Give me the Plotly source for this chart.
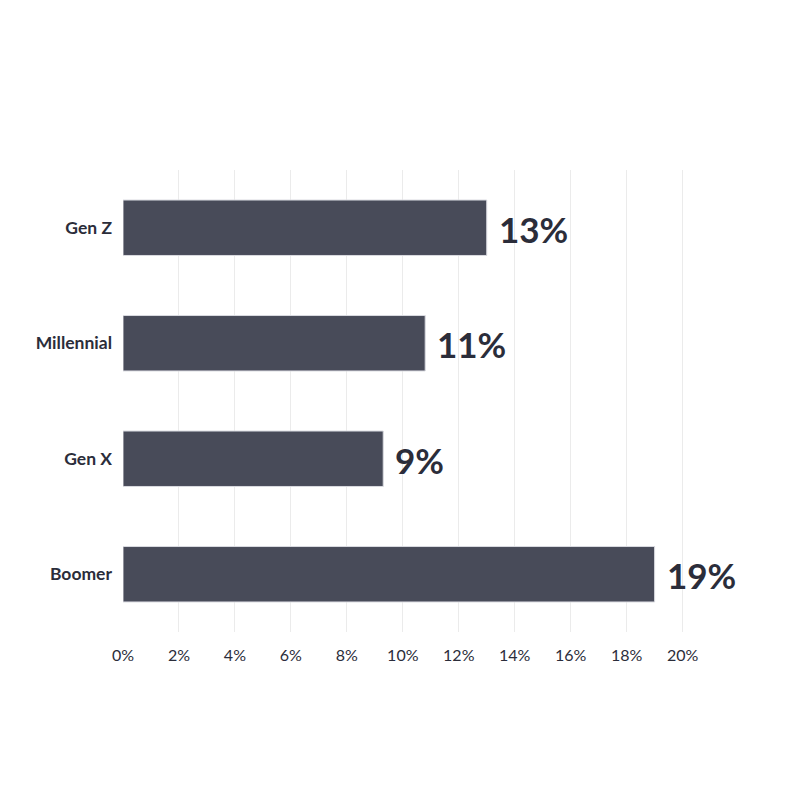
import plotly.graph_objects as go

categories = ["Gen Z", "Millennial", "Gen X", "Boomer"]
values = [13.0, 10.8, 9.3, 19.0]
labels = ["13%", "11%", "9%", "19%"]
tick_vals = [0, 2, 4, 6, 8, 10, 12, 14, 16, 18, 20]
tick_text = ["0%", "2%", "4%", "6%", "8%", "10%", "12%", "14%", "16%", "18%", "20%"]

fig = go.Figure(go.Bar(
    y=categories,
    x=values,
    orientation="h",
    marker=dict(color="#484b59", line=dict(color="#d9dae0", width=1)),
    hoverinfo="skip",
))

for cat, val, lab in zip(categories, values, labels):
    fig.add_annotation(
        x=val, y=cat, text=lab, showarrow=False,
        xanchor="left", yanchor="middle", xshift=10, yshift=-1,
        font=dict(family="Lato", size=35, color="#2b2d3a", weight="bold"),
    )

fig.update_layout(
    width=800, height=800,
    paper_bgcolor="white", plot_bgcolor="white",
    margin=dict(l=115, r=124, t=162, b=176),
    bargap=0.52,
    showlegend=False,
    font=dict(family="Lato", color="#2b2d3a"),
    xaxis=dict(
        range=[0, 20.05],
        tickvals=tick_vals, ticktext=tick_text,
        showgrid=True, gridcolor="#ebebeb", gridwidth=1,
        zeroline=False, showline=False,
        tickfont=dict(size=16, color="#2b2d3a"),
        ticks="", ticklabelstandoff=12,
    ),
    yaxis=dict(
        categoryorder="array", categoryarray=categories[::-1],
        showgrid=False, zeroline=False, showline=False,
        tickfont=dict(size=17.5, color="#2b2d3a", weight="bold"),
        ticks="", ticklabelstandoff=10,
    ),
)

fig.write_html("out.html")
